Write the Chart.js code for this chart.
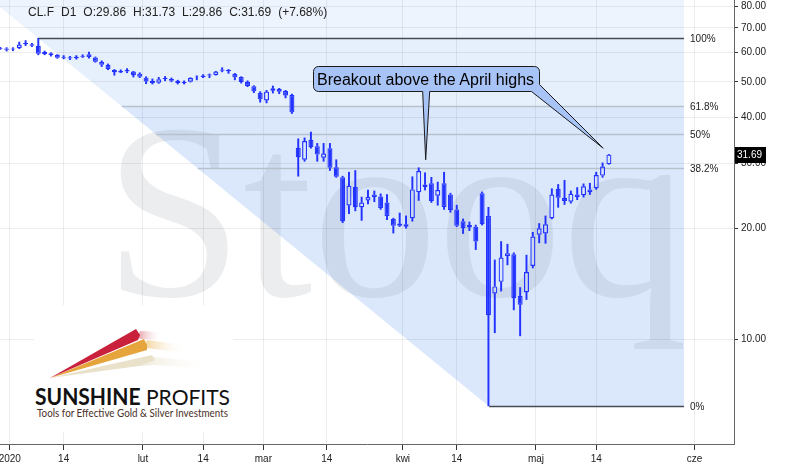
<!DOCTYPE html>
<html>
<head>
<meta charset="utf-8">
<script src="https://cdn.jsdelivr.net/npm/chart.js@4.4.1/dist/chart.umd.min.js"></script>
<style>
html,body{margin:0;padding:0;background:#fff;}
#wrap{position:relative;width:794px;height:474px;overflow:hidden;font-family:"Liberation Sans",Arial,sans-serif;}
#c{position:absolute;left:0;top:0;}
#hdr{position:absolute;left:28px;top:6px;font-size:12px;line-height:12px;color:#222;display:flex;gap:7px;white-space:pre;}
#callText{position:absolute;left:317px;top:72px;font-size:16px;line-height:16px;color:#000;white-space:pre;}
#logo{position:absolute;left:34px;top:305px;width:199px;height:127px;background:#fff;}
</style>
</head>
<body>
<div id="wrap">
<canvas id="c" width="794" height="474"></canvas>
<div id="hdr"></div>
<div id="callText">Breakout above the April highs</div>
<div id="logo">
<svg width="199" height="127" viewBox="0 0 199 127">
<defs>
<linearGradient id="gR" x1="0" x2="1"><stop offset="0" stop-color="#e9a0a8"/><stop offset="1" stop-color="#ffffff" stop-opacity="0"/></linearGradient>
<linearGradient id="gO" x1="0" x2="1"><stop offset="0" stop-color="#f3d39a"/><stop offset="1" stop-color="#ffffff" stop-opacity="0"/></linearGradient>
<linearGradient id="gC" x1="0" x2="1"><stop offset="0" stop-color="#efe9d8"/><stop offset="1" stop-color="#ffffff" stop-opacity="0"/></linearGradient>
</defs>
<polygon points="104,58 120,52 182,58 182,64 120,60 106,61" fill="url(#gC)"/>
<polygon points="16,73 118,50 121,55 105,61" fill="#e9e1c9"/>
<polygon points="111,41 113,35 150,40 150,48 113,43" fill="url(#gO)"/>
<polygon points="16,73 110,34 113,40 113,45" fill="#e6a43c"/>
<polygon points="104,32 106,26 128,27 128,35 106,34" fill="url(#gR)"/>
<polygon points="16,73 102,24 106,30 104,35" fill="#c9203c"/>
<text x="1" y="100" textLength="195" lengthAdjust="spacingAndGlyphs" font-family="Lato, 'Open Sans', sans-serif" font-size="22" fill="#111"><tspan font-weight="bold">SUNSHINE</tspan> PROFITS</text>
<text x="3" y="112" textLength="191" lengthAdjust="spacingAndGlyphs" font-family="Lato, 'Open Sans', sans-serif" font-size="10.5" fill="#4a3028">Tools for Effective Gold &amp; Silver Investments</text>
</svg>
</div>
</div>
<script>
// ---- data (trading-day index k = 0 .. 96, 30 Dec 2019 .. 18 May 2020) ----
const opens  = [61.7,61.6,61.6,61.8,63.7,63.2,62.6,60.2,59.8,59.1,58.0,58.3,57.9,58.8,59.4,58.2,56.7,55.6,53.8,53.0,53.8,53.3,52.6,51.3,50.3,49.7,51.2,50.9,50.3,49.6,50.0,51.6,51.5,52.3,52.2,54.0,53.8,52.5,51.5,50.0,48.6,46.6,44.5,48.0,47.8,47.2,46.0,
  33.1,30.7,34.8,33.4,31.1,33.0,29.3,27.5,23.05,25.9,22.8,23.8,24.3,24.4,23.5,21.2,20.3,20.2,21.3,25.05,26.3,26.5,24.5,26.5,24.7,22.5,20.9,20.4,20.2,24.9,21.6,
  13.3,14.3,16.8,17.0,13.1,13.4,15.8,19.2,19.35,21.3,25.6,24.2,23.6,24.7,24.6,25.5,25.7,27.8,29.86];
const highs  = [62.0,61.9,61.9,64.1,64.7,63.6,65.65,60.6,60.0,59.3,58.9,58.6,58.9,59.2,60.2,58.4,57.0,55.9,54.0,53.9,54.3,53.4,52.9,51.6,50.9,51.4,51.7,51.2,50.5,50.3,51.3,51.9,52.3,52.5,53.4,54.6,54.0,52.7,51.6,50.3,48.8,47.0,47.4,48.7,48.0,47.4,46.3,
  35.0,35.2,36.5,34.0,34.0,34.0,30.7,27.7,28.4,28.7,24.3,25.4,25.25,24.8,24.7,21.3,22.0,21.6,27.6,29.2,28.3,27.5,26.7,28.4,24.9,23.1,21.2,20.8,20.4,25.1,22.8,
  16.4,18.4,18.1,17.15,13.8,16.9,19.5,20.6,21.6,25.6,26.3,27.0,25.25,25.8,26.4,26.5,28.4,30.1,31.73];
const lows   = [61.2,60.6,60.7,61.5,62.7,62.3,59.2,59.2,58.7,57.9,57.7,57.4,57.6,58.2,58.0,56.5,55.0,53.9,52.1,52.9,52.9,51.5,51.3,49.4,49.3,49.5,50.3,50.0,49.3,49.3,49.9,50.6,51.3,51.3,52.1,53.2,52.7,50.6,49.6,48.5,46.7,44.0,43.8,46.6,46.4,45.2,41.0,
  27.7,30.4,33.0,30.4,30.4,28.7,27.5,20.7,21.9,22.3,21.0,23.3,23.6,22.5,21.1,19.4,20.2,20.0,20.9,23.8,25.4,23.5,23.1,22.5,22.1,20.2,19.35,19.7,17.5,20.4,6.58,
  10.4,13.5,15.9,12.0,10.2,12.8,15.6,18.25,18.2,21.2,22.8,23.2,23.4,23.9,24.3,24.7,25.5,27.5,29.86];
const closes = [61.4,61.1,61.2,63.1,63.2,62.6,59.6,59.5,59.1,58.1,58.3,57.8,58.5,58.5,58.4,56.7,55.6,54.2,53.1,53.5,53.3,52.1,51.6,50.1,49.6,50.8,50.9,50.3,49.6,49.9,51.2,51.4,52.0,52.0,53.3,53.6,53.4,51.4,49.9,48.7,47.1,44.8,47.0,47.3,47.0,45.9,41.3,
  31.2,34.5,33.2,31.7,31.9,29.2,27.6,20.9,26.1,22.8,23.5,24.3,24.7,22.7,21.6,20.3,20.6,20.5,25.5,28.6,25.9,23.7,25.4,22.85,22.4,20.3,20.0,20.1,18.4,20.5,11.6,
  13.9,16.65,17.1,12.9,12.4,15.2,19.0,20.0,20.5,24.7,24.2,23.7,24.8,24.3,26.0,25.05,27.9,29.43,31.69];

const xTickPos    = [1.5, 10, 22.5, 32, 41.5, 51.5, 63.5, 72, 84.5, 94, 109.5];
const xTickLabels = ['2020','14','lut','14','mar','14','kwi','14','maj','14','cze'];
const yTickValues = [10, 20, 30, 40, 50, 60, 70, 80];
const fibRatios   = [1, 0.618, 0.5, 0.382, 0];
const fibLabels   = ['100%','61.8%','50%','38.2%','0%'];
const swingHigh   = {k: 6,  v: 65.65};
const swingLow    = {k: 77, v: 6.58};
const fibEndK     = 107.85;
const tip1 = {k: 67.1, v: 30.7};
const tip2 = {k: 95.1, v: 33.0};
const X_MIN = -0.04, X_MAX = 115.73, Y_MIN = 5.185, Y_MAX = 83.4;

const BLUE = '#2233ff';
const last = closes.length - 1;
const pct = (closes[last] / closes[last - 1] - 1) * 100;
document.getElementById('hdr').innerHTML =
  ['CL.F', 'D1', 'O:' + opens[last].toFixed(2), 'H:' + highs[last].toFixed(2),
   'L:' + lows[last].toFixed(2), 'C:' + closes[last].toFixed(2),
   '(' + (pct >= 0 ? '+' : '') + pct.toFixed(2) + '%)'].map(s => '<span>' + s + '</span>').join('');

const bodies = opens.map((o, i) => ({x: i, y: [o, closes[i]]}));
const wickHi = opens.map((o, i) => ({x: i, y: [Math.max(o, closes[i]), highs[i]]}));
const wickLo = opens.map((o, i) => ({x: i, y: [lows[i], Math.min(o, closes[i])]}));
const bodyFill = opens.map((o, i) => closes[i] >= o ? 'rgba(0,0,0,0)' : BLUE);

const fibPlugin = {
  id: 'fib',
  beforeDraw(chart) {
    const {ctx, chartArea: ca, scales: {x, y}} = chart;
    const p1 = {x: x.getPixelForValue(swingHigh.k), y: y.getPixelForValue(swingHigh.v)};
    const p0 = {x: x.getPixelForValue(swingLow.k), y: y.getPixelForValue(swingLow.v)};
    const m = (p0.y - p1.y) / (p0.x - p1.x);
    const xAt = yy => p1.x + (yy - p1.y) / m;
    const xR = x.getPixelForValue(fibEndK);
    const lvl = r => y.getPixelForValue(swingLow.v + r * (swingHigh.v - swingLow.v));
    ctx.save();
    ctx.beginPath(); ctx.rect(ca.left, ca.top, ca.width, ca.height); ctx.clip();
    const band = (ya, yb, col) => {
      ctx.fillStyle = col; ctx.beginPath();
      ctx.moveTo(xAt(ya), ya); ctx.lineTo(xR, ya); ctx.lineTo(xR, yb); ctx.lineTo(xAt(yb), yb);
      ctx.closePath(); ctx.fill();
    };
    band(ca.top, lvl(1), '#eef4fd');
    band(lvl(1), lvl(0.618), '#e6effc');
    band(lvl(0.618), lvl(0), '#dbe8fc');
    ctx.font = '250px "Liberation Serif", "DejaVu Serif", serif';
    ctx.fillStyle = 'rgba(110,115,135,0.13)';
    ctx.textBaseline = 'alphabetic';
    ctx.fillText('Stooq', 104, 296);
    ctx.restore();
    chart.$fib = {xAt, xR, lvl};
  },
  beforeDatasetsDraw(chart) {
    const {ctx} = chart;
    const {xAt, xR, lvl} = chart.$fib;
    ctx.save();
    fibRatios.forEach((r, i) => {
      const yy = Math.round(lvl(r)) + 0.5;
      ctx.strokeStyle = (r === 1 || r === 0) ? '#464c55' : '#b7c1ce';
      ctx.lineWidth = (r === 1 || r === 0) ? 1.3 : 1.6;
      ctx.beginPath(); ctx.moveTo(xAt(yy), yy); ctx.lineTo(xR, yy); ctx.stroke();
      ctx.fillStyle = '#222'; ctx.font = '10px "Liberation Sans", Arial, sans-serif';
      ctx.textBaseline = 'middle'; ctx.textAlign = 'left';
      ctx.fillText(fibLabels[i], xR + 6, yy + 1);
    });
    ctx.restore();
  },
  afterDatasetsDraw(chart) {
    const {ctx, scales: {x, y}} = chart;
    const t1 = {x: x.getPixelForValue(tip1.k), y: y.getPixelForValue(tip1.v)};
    const t2 = {x: x.getPixelForValue(tip2.k), y: y.getPixelForValue(tip2.v)};
    const b = {x1: 313.5, y1: 66.5, x2: 539.5, y2: 91.5, r: 5};
    ctx.save();
    ctx.beginPath();
    ctx.moveTo(b.x1 + b.r, b.y1);
    ctx.lineTo(b.x2 - b.r, b.y1);
    ctx.arcTo(b.x2, b.y1, b.x2, b.y1 + b.r, b.r);
    ctx.lineTo(b.x2, b.y2 - 7);
    ctx.lineTo(t2.x, t2.y);
    ctx.lineTo(b.x2 - 8, b.y2);
    ctx.lineTo(t1.x + 4, b.y2);
    ctx.lineTo(t1.x, t1.y);
    ctx.lineTo(t1.x - 3, b.y2);
    ctx.lineTo(b.x1 + b.r, b.y2);
    ctx.arcTo(b.x1, b.y2, b.x1, b.y2 - b.r, b.r);
    ctx.lineTo(b.x1, b.y1 + b.r);
    ctx.arcTo(b.x1, b.y1, b.x1 + b.r, b.y1, b.r);
    ctx.closePath();
    ctx.fillStyle = '#a8c3f5'; ctx.fill();
    ctx.strokeStyle = '#1a1a1a'; ctx.lineWidth = 1; ctx.stroke();
    // last price tag
    const py = y.getPixelForValue(closes[last]);
    ctx.fillStyle = '#000';
    ctx.fillRect(735, Math.round(py) - 8, 31, 16);
    ctx.fillStyle = '#fff'; ctx.font = '10px "Liberation Sans", Arial, sans-serif';
    ctx.textAlign = 'left'; ctx.textBaseline = 'middle';
    ctx.fillText(closes[last].toFixed(2), 737, Math.round(py) + 0.5);
    ctx.restore();
  }
};

new Chart(document.getElementById('c'), {
  type: 'bar',
  data: {
    datasets: [
      {data: bodies, backgroundColor: bodyFill, borderColor: BLUE, borderWidth: 1.2, borderSkipped: false,
       barThickness: 5, grouped: false, inflateAmount: 0},
      {data: wickHi, backgroundColor: BLUE, borderWidth: 0, barThickness: 1.3, grouped: false},
      {data: wickLo, backgroundColor: BLUE, borderWidth: 0, barThickness: 1.3, grouped: false}
    ]
  },
  options: {
    responsive: false, animation: false, events: [],
    layout: {padding: 0},
    plugins: {legend: {display: false}, tooltip: {enabled: false}, title: {display: false}},
    scales: {
      x: {
        type: 'linear', min: X_MIN, max: X_MAX, offset: false,
        grid: {offset: false, color: 'rgba(0,0,0,0.07)', tickLength: 6, tickColor: '#333', drawTicks: true},
        border: {display: true, color: '#666', width: 1},
        ticks: {autoSkip: false, maxRotation: 0, padding: 3, color: '#222',
                font: {family: '"Liberation Sans", Arial, sans-serif', size: 10},
                callback: (v, i) => xTickLabels[i]},
        afterBuildTicks: s => { s.ticks = xTickPos.map(v => ({value: v})); },
        afterFit: s => { s.height = 30; s.paddingLeft = 0; s.paddingRight = 0; }
      },
      y: {
        type: 'logarithmic', position: 'right', min: Y_MIN, max: Y_MAX,
        grid: {color: 'rgba(0,0,0,0.07)', tickLength: 4, tickColor: '#333'},
        border: {display: true, color: '#666', width: 1},
        ticks: {padding: 3, color: '#222', font: {family: '"Liberation Sans", Arial, sans-serif', size: 10},
                callback: v => Number(v).toFixed(2)},
        afterBuildTicks: s => { s.ticks = yTickValues.map(v => ({value: v})); },
        afterFit: s => { s.width = 60; s.paddingTop = 0; s.paddingBottom = 0; }
      }
    }
  },
  plugins: [fibPlugin]
});
</script>
</body>
</html>
